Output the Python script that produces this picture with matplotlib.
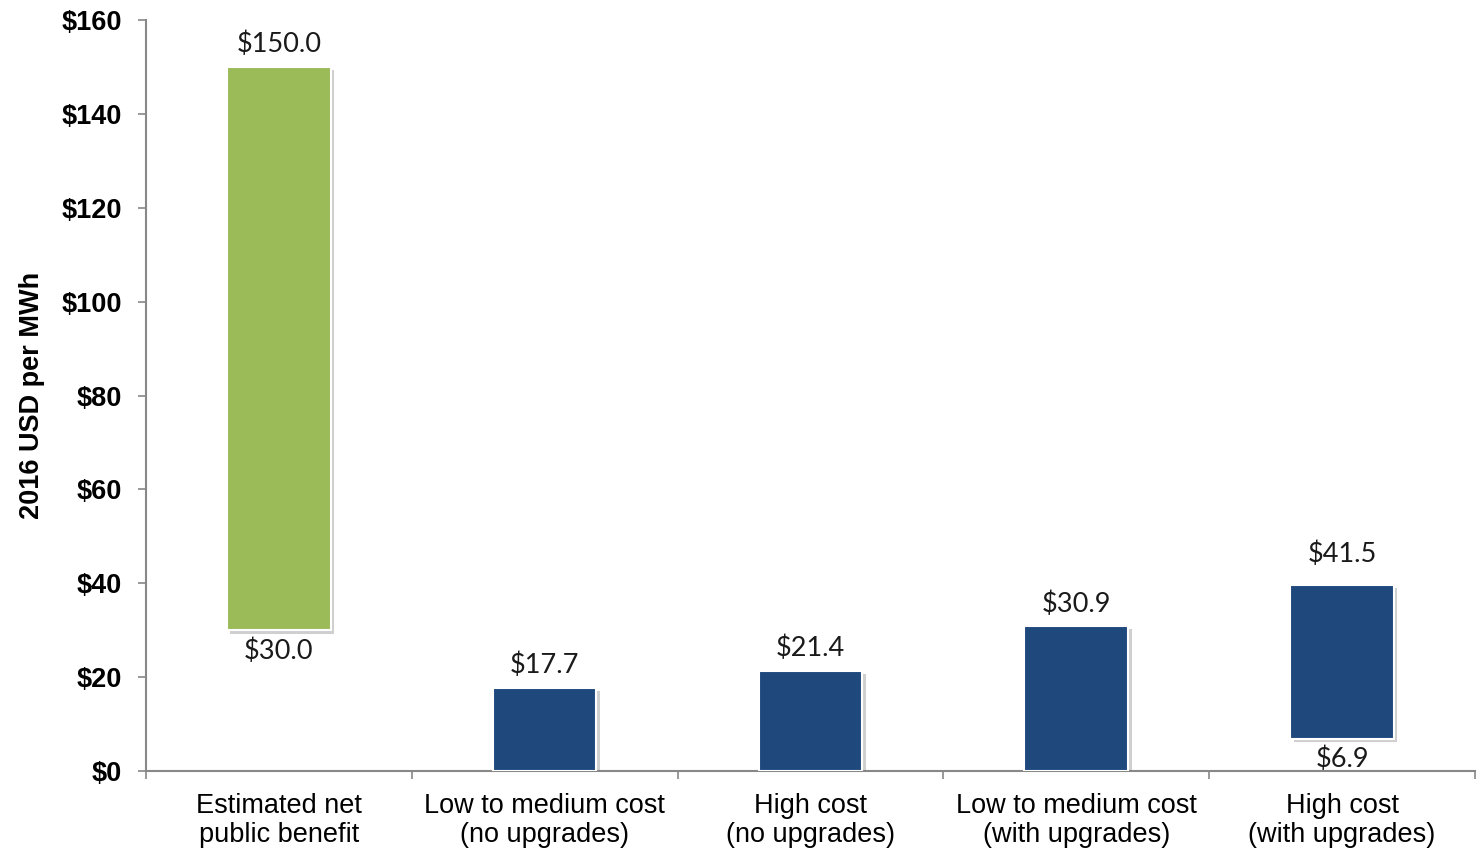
import matplotlib
matplotlib.use("Agg")
import matplotlib.pyplot as plt
import matplotlib.patheffects as pe

categories = ["Estimated net\npublic benefit", "Low to medium cost\n(no upgrades)",
              "High cost\n(no upgrades)", "Low to medium cost\n(with upgrades)",
              "High cost\n(with upgrades)"]
bar_bottoms = [30.0, 0.0, 0.0, 0.0, 6.9]
bar_tops = [150.0, 17.7, 21.4, 30.9, 39.7]
high_labels = [150.0, 17.7, 21.4, 30.9, 41.5]
low_labels = [30.0, None, None, None, 6.9]
colors = ["#9BBB59", "#1F497D", "#1F497D", "#1F497D", "#1F497D"]
yticks = [0, 20, 40, 60, 80, 100, 120, 140, 160]

fig = plt.figure(figsize=(14.8, 8.59), dpi=100)
ax = fig.add_axes([0.0986, 0.1024, 0.8980, 0.8743])

x = list(range(len(categories)))
heights = [t - b for t, b in zip(bar_tops, bar_bottoms)]
bars = ax.bar(x, heights, bottom=bar_bottoms, width=0.39, color=colors,
              edgecolor="white", linewidth=1.5, zorder=3)
for b in bars:
    b.set_path_effects([pe.SimplePatchShadow(offset=(2.5, -2.5), shadow_rgbFace="#777777", alpha=0.35),
                        pe.Normal()])

lab_font = ["Lato", "DejaVu Sans"]
for xi, v in zip(x, high_labels):
    ax.annotate(f"${v:.1f}", (xi, v), xytext=(0, 16), textcoords="offset points",
                ha="center", va="center", fontsize=19.5, family=lab_font, color="#1a1a1a")
for xi, v in zip(x, low_labels):
    if v is not None:
        ax.annotate(f"${v:.1f}", (xi, v), xytext=(0, -15), textcoords="offset points",
                    ha="center", va="center", fontsize=19.5, family=lab_font, color="#1a1a1a")

ax.set_xlim(-0.5, len(categories) - 0.5)
ax.set_ylim(0, 160)
ax.set_yticks(yticks)
ax.set_yticklabels([f"${t}" for t in yticks], fontsize=19.5, fontweight="bold",
                   family="Liberation Sans")
ax.set_xticks(x)
ax.set_xticklabels(categories, fontsize=19.5, family="Liberation Sans", linespacing=1.15)
ax.tick_params(axis="x", length=0, pad=16)
ax.set_xticks([i - 0.5 for i in range(len(categories) + 1)], minor=True)
ax.tick_params(axis="x", which="minor", length=6, color="#888888", width=1.2)
ax.tick_params(axis="y", length=6, color="#888888", width=1.2, pad=11)
ax.set_ylabel("2016 USD per MWh", fontsize=19.5, fontweight="bold", family="Liberation Sans",
              labelpad=12)

for s in ["top", "right"]:
    ax.spines[s].set_visible(False)
for s in ["left", "bottom"]:
    ax.spines[s].set_color("#888888")
    ax.spines[s].set_linewidth(1.5)

fig.savefig("out.png", dpi=100)
